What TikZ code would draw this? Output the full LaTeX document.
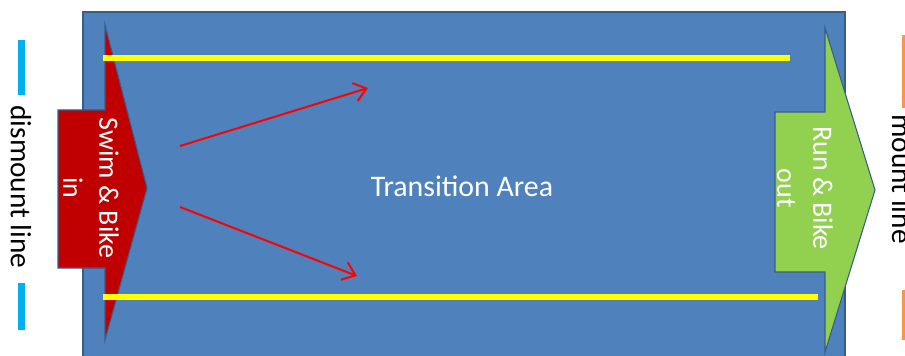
\documentclass[tikz,border=0pt]{standalone}
\usepackage{fontspec}
\setmainfont{Carlito}
\usetikzlibrary{arrows.meta}
\definecolor{areablue}{HTML}{4F81BD}
\definecolor{edgeblue}{HTML}{385D8A}
\definecolor{inred}{HTML}{C00000}
\definecolor{outgreen}{HTML}{92D050}
\definecolor{laneyellow}{HTML}{FFFF00}
\definecolor{pathred}{HTML}{FF0000}
\definecolor{dismcyan}{HTML}{00B0F0}
\definecolor{mountorange}{HTML}{F79646}

\begin{document}
\begin{tikzpicture}[x=0.75pt,y=-0.75pt,
    shapeedge/.style={draw=edgeblue, line width=0.8pt},
    lane/.style={laneyellow, line width=4.5pt},
    route/.style={pathred, line width=1.5pt, -{Straight Barb[length=9pt,width=14pt,line width=1.5pt]}},
    whitetext/.style={white, font=\fontsize{21}{27}\selectfont, align=center, inner sep=0pt},
    blacktext/.style={black, font=\fontsize{22}{27}\selectfont, inner sep=0pt},
    linemark/.style={line width=5.5pt}]
    \useasboundingbox (0,0) rectangle (905,356);
    \clip (0,0) rectangle (905,356);
    % transition area
    \draw [shapeedge, fill=areablue] (83,12) rectangle (845,370);
    \node [whitetext, font=\fontsize{22.4}{27}\selectfont] (area) at (462,186) {Transition Area};
    % way in
    \draw [shapeedge, fill=inred] (58,110) -- (105,110) -- (105,25) -- (147,188)
        -- (105,340) -- (105,268) -- (58,268) -- cycle;
    \node [whitetext, rotate=-90] (swimin) at (91,188) {Swim \& Bike\\in};
    % way out
    \draw [shapeedge, fill=outgreen] (775,112) -- (825,112) -- (825,28) -- (875,190)
        -- (825,352) -- (825,272) -- (775,272) -- cycle;
    \node [whitetext, rotate=-90] (runout) at (805,188) {Run \& Bike\\out};
    % lanes
    \draw [lane] (103,58) -- (790,58);
    \draw [lane] (103,297) -- (818,297);
    % routes
    \coordinate (upfrom) at (180,146);
    \coordinate (upto) at (368,88);
    \coordinate (downfrom) at (180,207);
    \coordinate (downto) at (357,276);
    \draw [route] (upfrom) -- (upto);
    \draw [route] (downfrom) -- (downto);
    % dismount line
    \node [blacktext, rotate=-90] (dismount) at (21,187) {dismount line};
    \draw [linemark, dismcyan] (21.5,40) -- (21.5,95);
    \draw [linemark, dismcyan] (21.5,283) -- (21.5,330);
    % mount line, cut off at the right edge
    \node [blacktext, rotate=-90, anchor=base] (mount) at (892,179) {mount line};
    \draw [linemark, mountorange] (906,35) -- (906,108);
    \draw [linemark, mountorange] (906,290) -- (906,340);
\end{tikzpicture}
\end{document}
